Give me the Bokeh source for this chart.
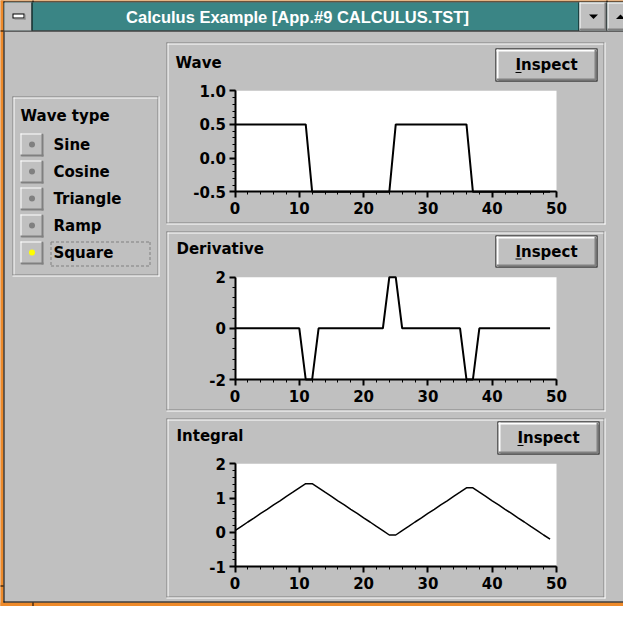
from bokeh.plotting import figure
from bokeh.models import Range1d, LinearAxis, FixedTicker, PrintfTickFormatter
from bokeh.core.properties import value
from bokeh.embed import file_html
from bokeh.resources import INLINE

# ---------------- data ----------------
x_samples = [0, 1, 2, 3, 4, 5, 6, 7, 8, 9, 10, 11, 12, 13, 14, 15, 16, 17, 18, 19,
             20, 21, 22, 23, 24, 25, 26, 27, 28, 29, 30, 31, 32, 33, 34, 35, 36, 37, 38, 39,
             40, 41, 42, 43, 44, 45, 46, 47, 48, 49]
wave = [0.5, 0.5, 0.5, 0.5, 0.5, 0.5, 0.5, 0.5, 0.5, 0.5, 0.5, 0.5,
        -0.5, -0.5, -0.5, -0.5, -0.5, -0.5, -0.5, -0.5, -0.5, -0.5, -0.5, -0.5, -0.5,
        0.5, 0.5, 0.5, 0.5, 0.5, 0.5, 0.5, 0.5, 0.5, 0.5, 0.5, 0.5,
        -0.5, -0.5, -0.5, -0.5, -0.5, -0.5, -0.5, -0.5, -0.5, -0.5, -0.5, -0.5, -0.5]
derivative = [0, 0, 0, 0, 0, 0, 0, 0, 0, 0, 0, -2, -2,
              0, 0, 0, 0, 0, 0, 0, 0, 0, 0, 0, 2, 2,
              0, 0, 0, 0, 0, 0, 0, 0, 0, 0, -2, -2,
              0, 0, 0, 0, 0, 0, 0, 0, 0, 0, 0, 0]
integral = [0.05, 0.17, 0.30, 0.42, 0.55, 0.67, 0.80, 0.92, 1.05, 1.17, 1.30, 1.42,
            1.42, 1.30, 1.17, 1.05, 0.92, 0.80, 0.67, 0.55, 0.42, 0.30, 0.17, 0.05, -0.08,
            -0.08, 0.05, 0.17, 0.30, 0.42, 0.55, 0.67, 0.80, 0.92, 1.05, 1.17, 1.30,
            1.30, 1.17, 1.05, 0.92, 0.80, 0.67, 0.55, 0.42, 0.30, 0.17, 0.05, -0.08, -0.20]

x_ticks = [0, 10, 20, 30, 40, 50]
x_minor = [0, 2, 4, 6, 8, 10, 12, 14, 16, 18, 20, 22, 24, 26, 28, 30, 32, 34, 36, 38,
           40, 42, 44, 46, 48, 50]
wave_ticks = [-0.5, 0.0, 0.5, 1.0]
wave_minor = [-0.5, -0.4, -0.3, -0.2, -0.1, 0.0, 0.1, 0.2, 0.3, 0.4, 0.5, 0.6, 0.7, 0.8, 0.9, 1.0]
deriv_ticks = [-2, 0, 2]
deriv_minor = [-2, -1.6, -1.2, -0.8, -0.4, 0, 0.4, 0.8, 1.2, 1.6, 2]
integ_ticks = [-1, 0, 1, 2]
integ_minor = [-1, -0.8, -0.6, -0.4, -0.2, 0, 0.2, 0.4, 0.6, 0.8, 1, 1.2, 1.4, 1.6, 1.8, 2]

window_title = "Calculus Example [App.#9 CALCULUS.TST]"
panel_titles = ["Wave", "Derivative", "Integral"]
button_text = "Inspect"
group_title = "Wave type"
wave_types = ["Sine", "Cosine", "Triangle", "Ramp", "Square"]
selected_type = "Square"

# ---------------- canvas ----------------
W, H = 623, 606
GRAY, DARK, WHITE, BLACK = "#C0C0C0", "#808080", "#FFFFFF", "#000000"
TEAL = "#3A8585"
ORANGE = "#EE8A2A"
FONT = "DejaVu Sans"

p = figure(width=W, height=H, x_range=Range1d(0, W), y_range=Range1d(H, 0),
           x_axis_type=None, y_axis_type=None, min_border=0,
           toolbar_location=None, output_backend="svg",
           outline_line_color=None, background_fill_color=GRAY,
           border_fill_color=GRAY)


def xr(lo, hi, l, r):
    span = (hi - lo) * W / (r - l)
    start = lo - l / W * span
    return Range1d(start, start + span)


def yr(lo, hi, t, b):
    span = (hi - lo) * H / (b - t)
    start = lo - (H - b) / H * span
    return Range1d(start, start + span)


CX0, CX1 = 234.5, 556.0
charts = [
    ("wy", wave, wave_ticks, wave_minor, "%.1f", 90.3, 191.3, 2.0),
    ("dy", derivative, deriv_ticks, deriv_minor, "%d", 276.7, 379.0, 2.0),
    ("iy", integral, integ_ticks, integ_minor, "%d", 463.3, 566.0, 1.5),
]
p.extra_x_ranges = {"cx": xr(x_ticks[0], x_ticks[-1], CX0, CX1)}
p.extra_y_ranges = {name: yr(t[0], t[-1], top, bot) for name, _, t, _, _, top, bot, _ in charts}

# ---------------- window chrome ----------------
L, R, T, B, C = [], [], [], [], []


def rect(x0, y0, x1, y1, c):
    L.append(x0); R.append(x1); T.append(y0); B.append(y1); C.append(c)


def etched(x0, y0, x1, y1):
    rect(x0, y0, x1, y0 + 1, DARK)
    rect(x0, y0, x0 + 1, y1, DARK)
    rect(x0, y1 - 1, x1, y1, DARK)
    rect(x1 - 1, y0, x1, y1, DARK)
    rect(x0 + 1, y0 + 1, x1 - 1, y0 + 2, WHITE)
    rect(x0 + 1, y0 + 1, x0 + 2, y1 - 1, WHITE)
    rect(x0, y1, x1 + 1, y1 + 1, WHITE)
    rect(x1, y0, x1 + 1, y1 + 1, WHITE)


def raised(x0, y0, x1, y1, hl=1, sh=2):
    rect(x0, y0, x1, y1, GRAY)
    rect(x0, y0, x1, y0 + hl, WHITE)
    rect(x0, y0, x0 + hl, y1, WHITE)
    rect(x0, y1 - sh, x1, y1, DARK)
    rect(x1 - sh, y0, x1, y1, DARK)


def push_button(x0, y0, x1, y1):
    rect(x0, y0, x1, y1, BLACK)
    raised(x0 + 1, y0 + 1, x1 - 1, y1 - 1, hl=2, sh=2)


# borders
rect(-3, -3, 3, H, ORANGE)
rect(-3, -3, W, 1, ORANGE)
rect(-3, 602, W, H + 3, ORANGE)
rect(3, 1, W, 2, BLACK)
rect(3, 1, 4, 602, BLACK)
rect(3, 601, W, 602, BLACK)
for (a, b_, c_, d_) in [(32, -3, 33, 2), (-3, 30, 3, 31), (-3, 585, 3, 586), (32, 602, 33, H), (606, -3, 607, 2)]:
    rect(a, b_, c_, d_, BLACK)

# title bar
rect(4, 2, W, 30, TEAL)
rect(4, 30, W, 31, BLACK)
rect(4, 2, 31, 30, GRAY)
rect(31, 2, 32, 30, BLACK)
rect(12, 13, 24, 18, BLACK)
rect(13, 14, 23, 17, WHITE)
rect(14, 18, 25, 19, DARK)
rect(24, 14, 25, 19, DARK)
rect(578, 2, 579, 30, BLACK)
raised(579, 2, 606, 30)
rect(606, 2, 607, 30, BLACK)
raised(607, 2, 634, 30)

# group boxes
etched(166, 42, 604, 223)
etched(166, 231, 604, 410)
etched(166, 418, 604, 597)
etched(12, 96, 158, 275)

# inspect buttons
buttons = [(495, 48, 597, 81), (495, 235, 597, 267), (497, 421, 599, 454)]
for bx in buttons:
    push_button(*bx)

# radio buttons
radio_y = [133, 160, 187, 214, 241]
for y0 in radio_y:
    raised(20, y0, 43, y0 + 23, hl=1, sh=2)

p.quad(left=L, right=R, top=T, bottom=B, fill_color=C, line_color=None)

# triangles of the title bar buttons
p.patches(xs=[[588.5, 597.5, 593], [615.5, 624.5, 620]],
          ys=[[14, 14, 18.5], [18.5, 18.5, 14]], fill_color=BLACK, line_color=None)

# radio dots
p.scatter(x=[31.5] * 5, y=[y + 11 for y in radio_y], size=6, marker="circle",
          fill_color=["#FFFF00" if t == selected_type else DARK for t in wave_types],
          line_color=None)

# focus rectangle around the selected label
fx0, fy0, fx1, fy1 = 50.5, 241.5, 149.5, 265.5
p.segment(x0=[fx0, fx0, fx0, fx1], y0=[fy0, fy1, fy0, fy0], x1=[fx1, fx1, fx0, fx1],
          y1=[fy0, fy1, fy1, fy1], line_color=DARK, line_width=1, line_dash="3 2")

# underline of the Inspect accelerator
p.quad(left=[bx[0] + (bx[2] - bx[0]) / 2 - 31 for bx in buttons],
       right=[bx[0] + (bx[2] - bx[0]) / 2 - 25 for bx in buttons],
       top=[(bx[1] + bx[3]) / 2 + 7 for bx in buttons],
       bottom=[(bx[1] + bx[3]) / 2 + 8 for bx in buttons],
       fill_color=BLACK, line_color=None)

# ---------------- texts ----------------
p.text(x=[297], y=[16.5], text=[window_title], text_color=WHITE,
       text_font=value("Liberation Sans"), text_font_style="bold",
       text_font_size="16.5px", text_align="center", text_baseline="middle")

p.text(x=[175, 176, 176], y=[62, 248, 435], text=panel_titles, text_color=BLACK,
       text_font=value(FONT), text_font_style="bold", text_font_size="15px",
       text_align="left", text_baseline="middle")

p.text(x=[(bx[0] + bx[2]) / 2 for bx in buttons], y=[(bx[1] + bx[3]) / 2 for bx in buttons],
       text=[button_text] * 3, text_color=BLACK,
       text_font=value(FONT), text_font_style="bold", text_font_size="15px",
       text_align="center", text_baseline="middle")

p.text(x=[20] + [53] * 5, y=[115] + [y + 11.5 for y in radio_y],
       text=[group_title] + wave_types, text_color=BLACK,
       text_font=value(FONT), text_font_style="bold", text_font_size="15px",
       text_align="left", text_baseline="middle")

# ---------------- charts ----------------
for name, series, yt, ym, fmt, top, bot, lw in charts:
    p.quad(left=[x_ticks[0]], right=[x_ticks[-1]], bottom=[yt[0]], top=[yt[-1]],
           x_range_name="cx", y_range_name=name, fill_color=WHITE, line_color=None)
    p.line(x_samples, series, x_range_name="cx", y_range_name=name,
           line_color=BLACK, line_width=lw)

    xa = LinearAxis(x_range_name="cx", y_range_name=name, fixed_location=yt[0],
                    bounds=(x_ticks[0], x_ticks[-1]),
                    ticker=FixedTicker(ticks=x_ticks, minor_ticks=x_minor),
                    formatter=PrintfTickFormatter(format="%d"))
    ya = LinearAxis(x_range_name="cx", y_range_name=name, fixed_location=x_ticks[0],
                    bounds=(yt[0], yt[-1]),
                    ticker=FixedTicker(ticks=yt, minor_ticks=ym),
                    formatter=PrintfTickFormatter(format=fmt))
    for ax in (xa, ya):
        ax.axis_line_width = 2
        ax.axis_line_color = BLACK
        ax.major_tick_line_width = 2
        ax.major_tick_line_color = BLACK
        ax.minor_tick_line_width = 1
        ax.minor_tick_line_color = BLACK
        ax.major_tick_in = 0
        ax.major_tick_out = 6
        ax.minor_tick_in = 0
        ax.minor_tick_out = 3
        ax.major_label_text_font = FONT
        ax.major_label_text_font_style = "bold"
        ax.major_label_text_font_size = "15px"
        ax.major_label_text_color = BLACK
    xa.major_label_standoff = 4
    ya.major_label_standoff = 3
    p.add_layout(xa, "below")
    p.add_layout(ya, "left")

open("out.html", "w").write(file_html(p, INLINE))
